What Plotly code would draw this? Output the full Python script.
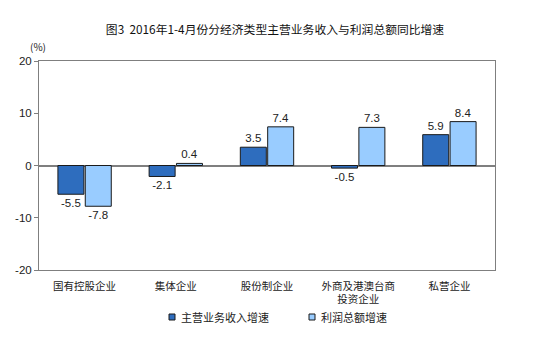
import plotly.graph_objects as go

categories = ["国有控股企业", "集体企业", "股份制企业", "外商及港澳台商<br>投资企业", "私营企业"]
revenue_growth = [-5.5, -2.1, 3.5, -0.5, 5.9]
profit_growth = [-7.8, 0.4, 7.4, 7.3, 8.4]
tick_vals = [-20, -10, 0, 10, 20]
series_names = ["主营业务收入增速", "利润总额增速"]
series_colors = ["#2E6DBE", "#99CCFF"]

font_cjk = "Noto Sans CJK SC, Liberation Sans, sans-serif"
W, H = 550, 337

fig = go.Figure()
for name, vals, col in zip(series_names, [revenue_growth, profit_growth], series_colors):
    fig.add_trace(go.Bar(
        x=categories, y=vals, name=name,
        marker=dict(color=col, line=dict(color="#1a1a1a", width=1)),
        text=[f"{v:.1f}" for v in vals], textposition="outside",
        textfont=dict(size=11.5, color="#222", family="Liberation Sans"),
        cliponaxis=False, showlegend=False,
    ))

fig.update_layout(
    width=W, height=H,
    margin=dict(l=39, r=55, t=61, b=67),
    paper_bgcolor="white", plot_bgcolor="white",
    barmode="group", bargap=0.4, bargroupgap=0.05,
    title=dict(text="图3  2016年1-4月份分经济类型主营业务收入与利润总额同比增速",
               x=0.5, xanchor="center", y=1 - 30 / H, yanchor="middle",
               font=dict(family=font_cjk, size=11.8, color="#111")),
    font=dict(family=font_cjk, size=10, color="#222"),
    showlegend=False,
)
fig.update_xaxes(
    showline=True, linecolor="#7f7f7f", linewidth=1, mirror=True,
    ticks="", ticklabelstandoff=6,
    tickfont=dict(family=font_cjk, size=10.5, color="#222"),
)
fig.update_yaxes(
    range=[-20, 20], tickvals=tick_vals, ticktext=[str(v) for v in tick_vals],
    showgrid=False, zeroline=True, zerolinecolor="#7f7f7f", zerolinewidth=1.5,
    showline=True, linecolor="#7f7f7f", linewidth=1, mirror=True,
    ticks="outside", ticklen=4, tickcolor="#7f7f7f",
    tickfont=dict(family="Liberation Sans Narrow, Liberation Sans", size=11.5, color="#222"),
)
fig.add_annotation(text="(%)", xref="paper", yref="paper", x=-0.025, y=1.07,
                   xanchor="left", yanchor="middle", showarrow=False,
                   font=dict(family=font_cjk, size=10, color="#222"))

# manual legend (pixel positions converted to paper coords)
legend_x = [169, 309]
ly = 317
pw, ph = W - 39 - 55, H - 61 - 67
def px(x):
    return (x - 39) / pw
def py(y):
    return (H - 67 - y) / ph
for lx, name, col in zip(legend_x, series_names, series_colors):
    fig.add_shape(type="rect", xref="paper", yref="paper",
                  x0=px(lx), x1=px(lx + 6), y0=py(ly + 3), y1=py(ly - 3),
                  fillcolor=col, line=dict(color="#1a1a1a", width=1))
    fig.add_annotation(text=name, xref="paper", yref="paper",
                       x=px(lx + 10), y=py(ly), xanchor="left", yanchor="middle",
                       showarrow=False,
                       font=dict(family=font_cjk, size=11, color="#222"))

fig.write_html("out.html")
